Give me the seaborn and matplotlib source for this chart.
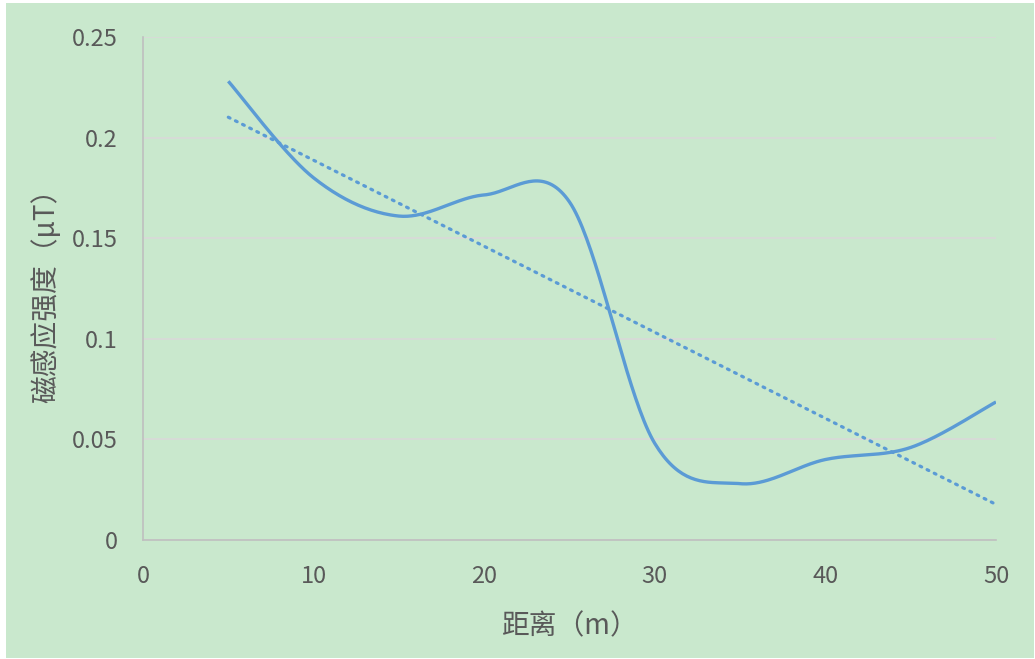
import numpy as np
import pandas as pd
import matplotlib.pyplot as plt
import seaborn as sns
from matplotlib.patches import Rectangle

# distance (m) and magnetic induction (uT)
distance = [5, 10, 15, 20, 25, 30, 35, 40, 45, 50]
induction = [0.228, 0.180, 0.161, 0.1715, 0.168, 0.048, 0.028, 0.040, 0.046, 0.0686]

x_ticks = [0, 10, 20, 30, 40, 50]
y_ticks = [0, 0.05, 0.1, 0.15, 0.2, 0.25]
y_tick_labels = ["0", "0.05", "0.1", "0.15", "0.2", "0.25"]

BLUE = "#5B9BD5"
GREEN = "#C9E8CD"


def smooth(xs, ys, n=40):
    # Excel-style smoothed line: cubic bezier through the points
    xs = np.asarray(xs, float)
    ys = np.asarray(ys, float)
    px, py = [], []
    m = len(xs)
    for i in range(m - 1):
        i0, i3 = max(i - 1, 0), min(i + 2, m - 1)
        c1x = xs[i] + (xs[i + 1] - xs[i0]) / 6
        c1y = ys[i] + (ys[i + 1] - ys[i0]) / 6
        c2x = xs[i + 1] - (xs[i3] - xs[i]) / 6
        c2y = ys[i + 1] - (ys[i3] - ys[i]) / 6
        t = np.linspace(0, 1, n, endpoint=(i == m - 2))
        a, b, c, d = (1 - t) ** 3, 3 * t * (1 - t) ** 2, 3 * t ** 2 * (1 - t), t ** 3
        px.append(a * xs[i] + b * c1x + c * c2x + d * xs[i + 1])
        py.append(a * ys[i] + b * c1y + c * c2y + d * ys[i + 1])
    return np.concatenate(px), np.concatenate(py)


sx, sy = smooth(distance, induction)
curve = pd.DataFrame({"x": sx, "y": sy})

k, b0 = np.polyfit(distance, induction, 1)
trend = pd.DataFrame({"x": [distance[0], distance[-1]],
                      "y": [k * distance[0] + b0, k * distance[-1] + b0]})

sns.set_style("white")
plt.rcParams["font.family"] = ["Noto Sans CJK SC", "DejaVu Sans"]

fig = plt.figure(figsize=(10.35, 6.59), dpi=100, facecolor="white")
bg = Rectangle((6 / 1035, 1 / 659), 1028 / 1035, 655 / 659,
               transform=fig.transFigure, facecolor=GREEN,
               edgecolor="none", zorder=-10)
fig.add_artist(bg)
ax = fig.add_axes([143 / 1035, 119 / 659, 853 / 1035, 503 / 659])
ax.set_facecolor("none")
ax.set_zorder(1)

sns.lineplot(data=curve, x="x", y="y", ax=ax, sort=False, color=BLUE,
             linewidth=2.4, solid_capstyle="butt")
sns.lineplot(data=trend, x="x", y="y", ax=ax, sort=False, color=BLUE,
             linewidth=2.3, linestyle=(0, (0.6, 1.9)), dash_capstyle="round")

ax.set_xlim(0, 50)
ax.set_ylim(0, 0.25)
ax.set_xticks(x_ticks)
ax.set_yticks(y_ticks)
ax.set_yticklabels(y_tick_labels)
ax.tick_params(length=0, labelsize=17, labelcolor="#595959")
ax.tick_params(axis="y", pad=18)
ax.tick_params(axis="x", pad=18)
ax.grid(axis="y", color="#D9D9D9", linewidth=1.2)
ax.set_axisbelow(True)
for s in ["top", "right"]:
    ax.spines[s].set_visible(False)
for s in ["left", "bottom"]:
    ax.spines[s].set_color("#BFBFBF")
    ax.spines[s].set_linewidth(1.2)

ax.set_xlabel("距离（m）", fontsize=20, color="#595959", labelpad=17)
ax.set_ylabel("磁感应强度（μT）", fontsize=20, color="#595959", labelpad=8)

plt.savefig("out.png", dpi=100)
